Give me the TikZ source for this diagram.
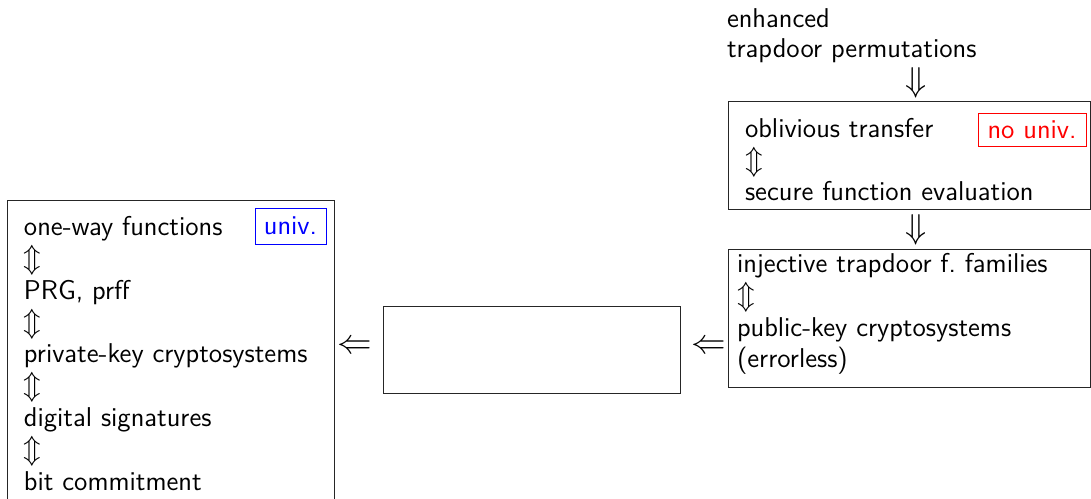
\documentclass[tikz,border=0pt]{standalone}
\begin{document}
\begin{tikzpicture}[x=0.5pt,y=-0.5pt,
  every node/.style={inner sep=0pt, outer sep=0pt},
  txt/.style={anchor=base west, font=\sffamily\fontsize{13.6}{16}\selectfont},
  frame/.style={draw=black!85, line width=0.5pt, anchor=north west, inner sep=0pt},
  tag/.style={draw=#1, text=#1, line width=0.5pt, font=\sffamily\fontsize{13.6}{16}\selectfont},
  glyph/.style={font=\fontsize{17.3}{19}\selectfont, inner sep=-2.5pt}]
\useasboundingbox (0,0) rectangle (1091,498);
\clip (0,0) rectangle (1091,498);
% left box
\node[frame, minimum width=163.5pt, minimum height=160pt] (L) at (7,200) {};
\node[txt] (l1) at (24,235) {one-way functions};
\node[txt] (l2) at (24,267) {$\Updownarrow$};
\node[txt] (l3) at (24,299) {PRG, prff};
\node[txt] (l4) at (24,331) {$\Updownarrow$};
\node[txt] (l5) at (24,362) {private-key cryptosystems};
\node[txt] (l6) at (24,394) {$\Updownarrow$};
\node[txt] (l7) at (24,426) {digital signatures};
\node[txt] (l8) at (24,458) {$\Updownarrow$};
\node[txt] (l9) at (24,490) {bit commitment};
\node[tag=blue, minimum width=35.5pt, minimum height=18pt] (univ) at (290.5,226) {univ.};
% top right
\node[txt] (enh) at (727,27) {enhanced};
\node[txt] (tp) at (727,57) {trapdoor permutations};
% OT box
\node[frame, minimum width=181pt, minimum height=54pt] (OT) at (728,101) {};
\node[txt] (o1) at (745,137) {oblivious transfer};
\node[txt] (o2) at (745,169) {$\Updownarrow$};
\node[txt] (o3) at (745,200) {secure function evaluation};
\node[tag=red, minimum width=54pt, minimum height=16.5pt] (nouniv) at (1032,129.5) {no univ.};
% injective box
\node[frame, minimum width=181pt, minimum height=69pt] (I) at (728,249) {};
\node[txt] (i1) at (737,272) {injective trapdoor f.\ families};
\node[txt] (i2) at (737,304) {$\Updownarrow$};
\node[txt] (i3) at (737,336) {public-key cryptosystems};
\node[txt] (i4) at (737,367) {(errorless)};
% middle box
\node[frame, minimum width=148.5pt, minimum height=43.5pt] (M) at (383,306) {};
% connectors (drawn as implication glyphs)
\coordinate (dx) at (916,0);
\coordinate (ay) at (0,347);
\path (tp.south -| dx) -- (OT.north -| dx) node[glyph, pos=0.52] (a1) {$\Downarrow$};
\path (OT.south -| dx) -- (I.north -| dx) node[glyph, pos=0.51] (a2) {$\Downarrow$};
\path (M.west |- ay) -- (L.east |- ay) node[glyph, pos=0.58] (a3) {$\Leftarrow$};
\path (I.west |- ay) -- (M.east |- ay) node[glyph, pos=0.41] (a4) {$\Leftarrow$};
\end{tikzpicture}
\end{document}
